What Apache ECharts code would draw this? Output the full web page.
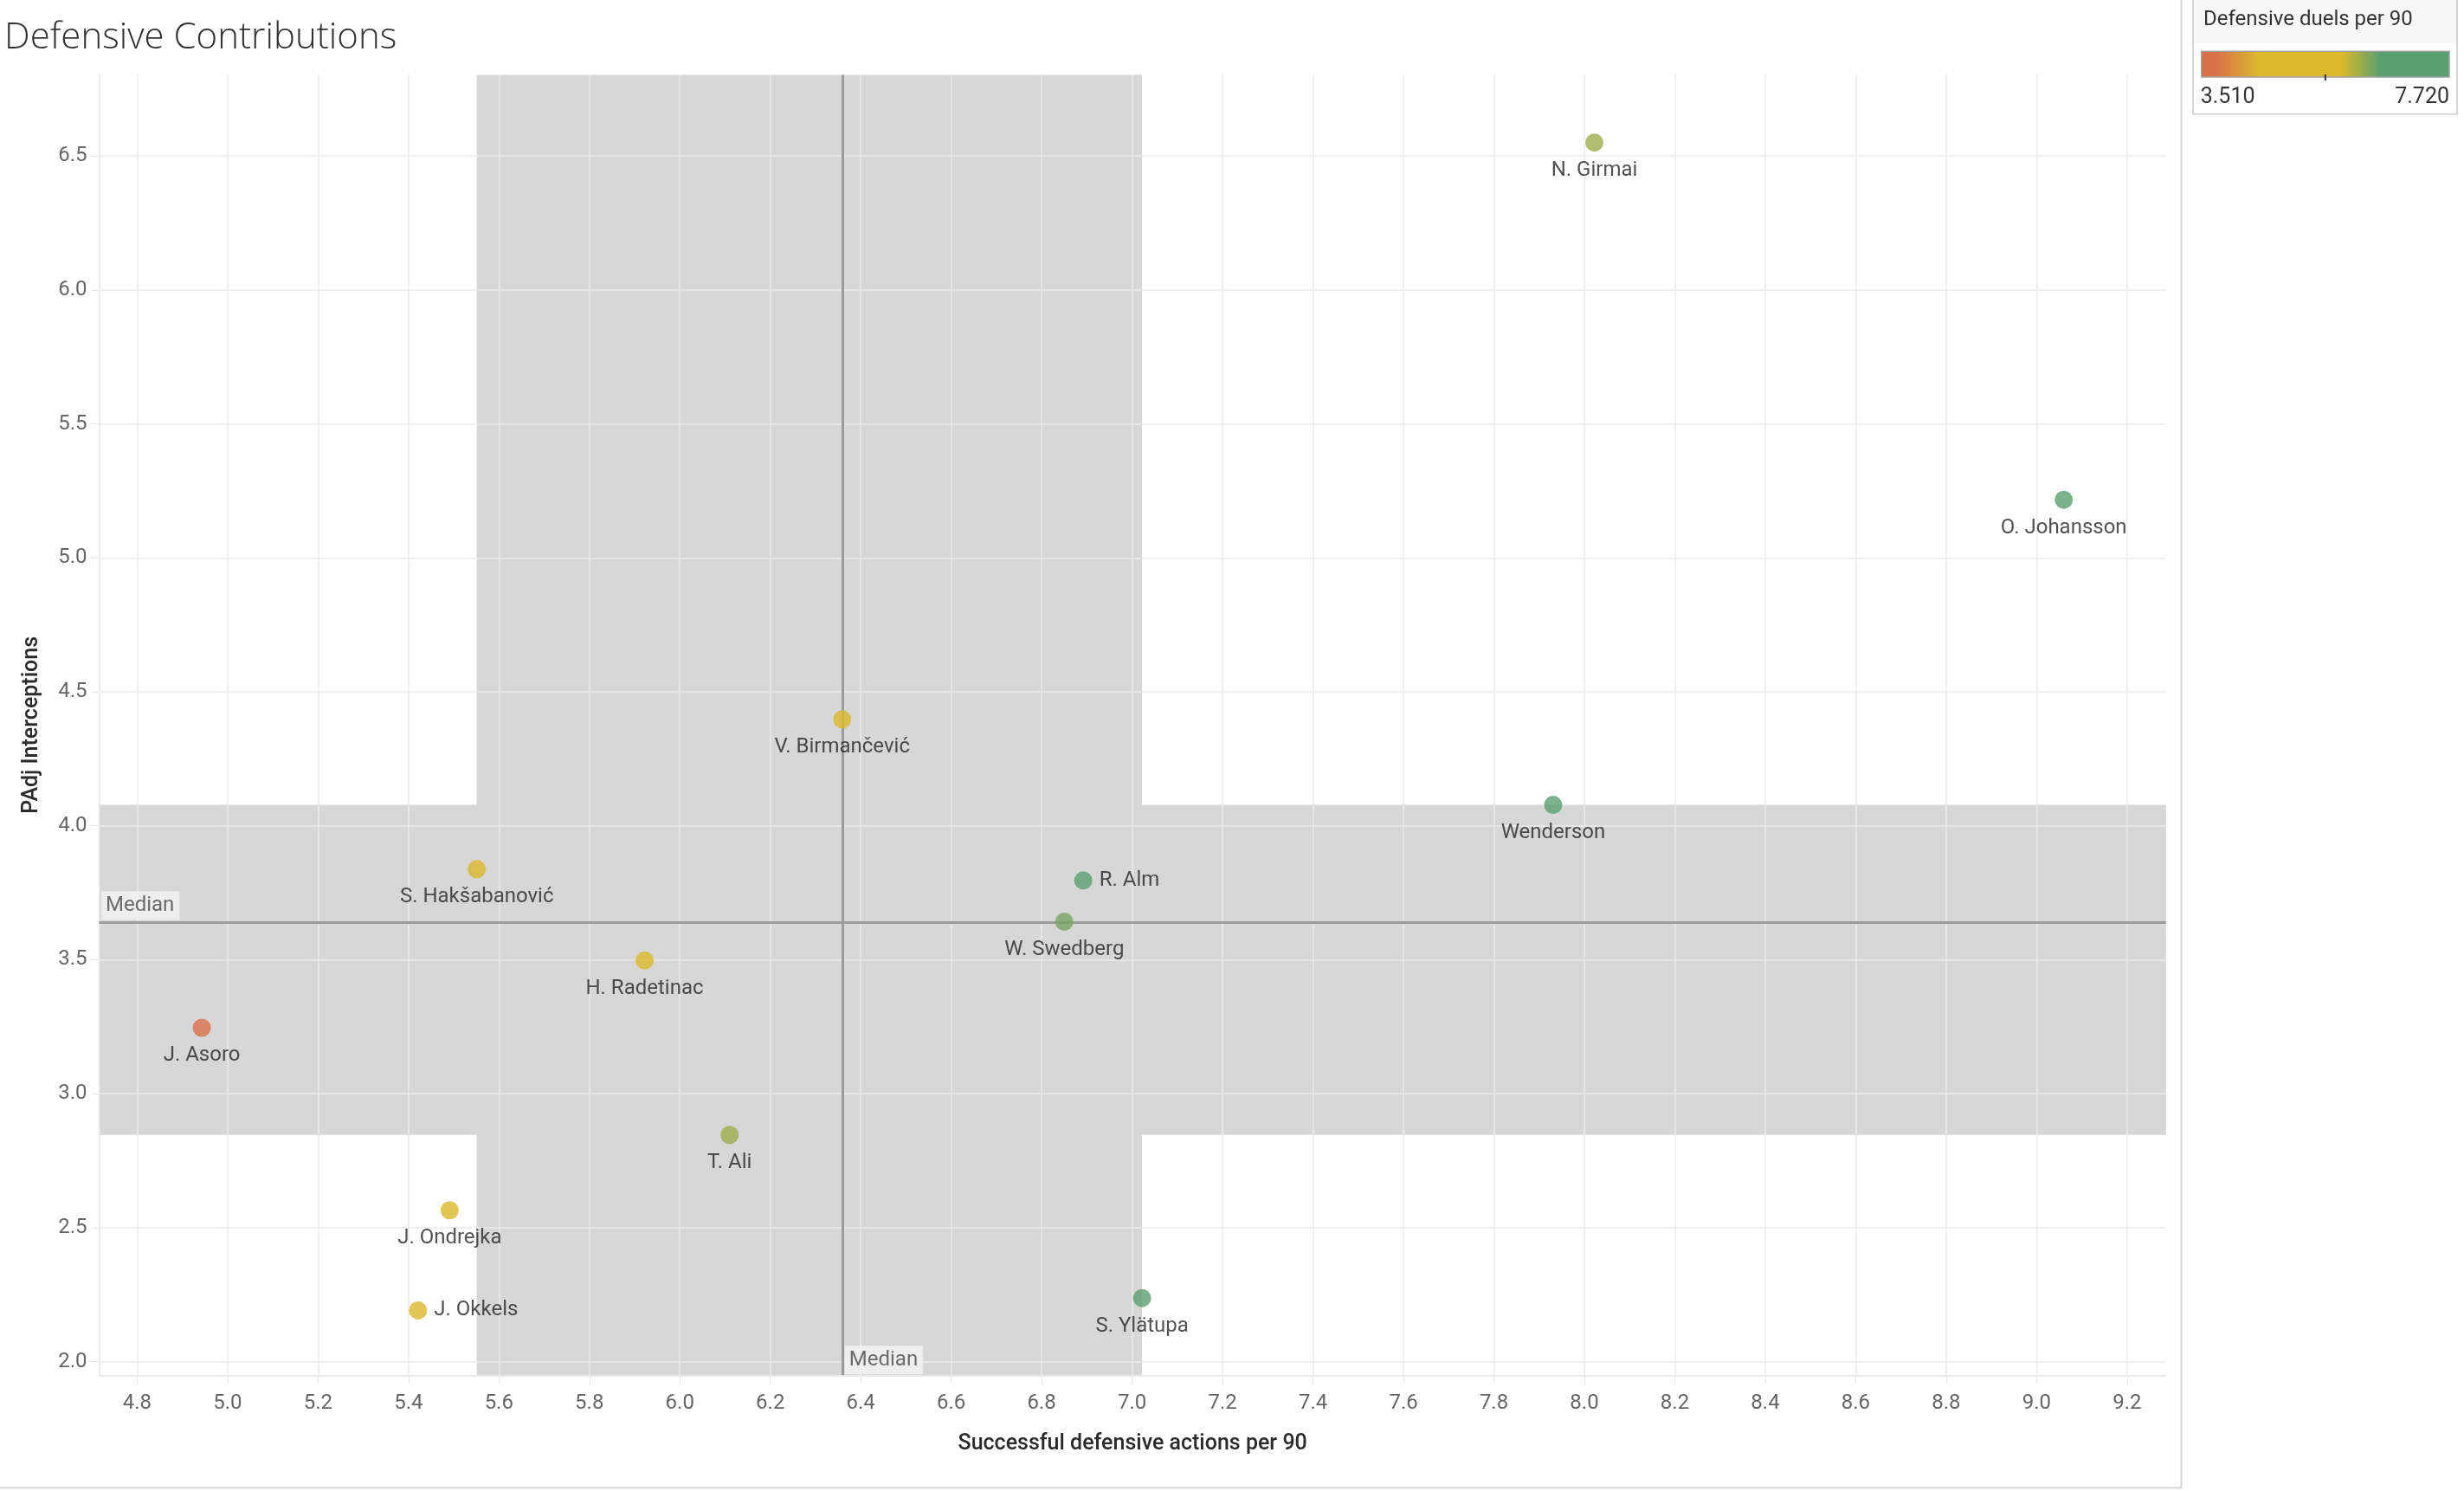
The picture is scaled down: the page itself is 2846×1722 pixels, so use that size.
<!DOCTYPE html>
<html>
<head>
<meta charset="utf-8">
<script src="https://cdn.jsdelivr.net/npm/echarts@6/dist/echarts.min.js"></script>
<style>
html,body{margin:0;padding:0;background:#fff;}
#chart{width:2846px;height:1722px;}
</style>
</head>
<body>
<div id="chart"></div>
<script>
// ---------------- DATA ----------------
const players = ['N. Girmai','O. Johansson','V. Birmančević','Wenderson','S. Hakšabanović','R. Alm','W. Swedberg','H. Radetinac','J. Asoro','T. Ali','J. Ondrejka','J. Okkels','S. Ylätupa'];
const defActions = [8.022, 9.060, 6.359, 7.931, 5.551, 6.892, 6.850, 5.922, 4.943, 6.110, 5.491, 5.421, 7.022];
const interceptions = [6.550, 5.217, 4.397, 4.078, 3.838, 3.796, 3.642, 3.497, 3.246, 2.846, 2.565, 2.191, 2.237];
const defDuels = [6.20, 7.30, 5.60, 7.72, 5.30, 7.05, 6.40, 5.05, 3.51, 6.20, 5.45, 5.20, 6.95];
const xTicks = [4.8, 5.0, 5.2, 5.4, 5.6, 5.8, 6.0, 6.2, 6.4, 6.6, 6.8, 7.0, 7.2, 7.4, 7.6, 7.8, 8.0, 8.2, 8.4, 8.6, 8.8, 9.0, 9.2];
const yTicks = [2.0, 2.5, 3.0, 3.5, 4.0, 4.5, 5.0, 5.5, 6.0, 6.5];
const legendMinValue = 3.51;
const legendMaxValue = 7.72;

// ---------------- STYLE / LAYOUT ----------------
const FONT = 'Roboto, "Noto Sans", sans-serif';
const TITLE_FONT = '"Open Sans", Roboto, sans-serif';
const xMin = 4.716, xMax = 9.286, yMin = 1.949, yMax = 6.803;
const rightLabeled = new Set(['R. Alm', 'J. Okkels']);
const colorStops = [[0, '#d9704a'], [0.058, '#d9704a'], [0.236, '#dbb92c'], [0.567, '#dbb92c'], [0.718, '#5aa06f'], [1, '#5aa06f']];

function hexToRgb(h) { return [1, 3, 5].map(i => parseInt(h.slice(i, i + 2), 16)); }
function colorAt(t) {
  for (let i = 1; i < colorStops.length; i++) {
    if (t <= colorStops[i][0]) {
      const [t0, c0] = colorStops[i - 1], [t1, c1] = colorStops[i];
      const f = t1 > t0 ? (t - t0) / (t1 - t0) : 1;
      const a = hexToRgb(c0), b = hexToRgb(c1);
      return 'rgb(' + a.map((v, k) => Math.round(v + (b[k] - v) * f)).join(',') + ')';
    }
  }
  return colorStops[colorStops.length - 1][1];
}
const mapColors = Array.from({length: 101}, (_, i) => colorAt(i / 100));

// statistics derived from the data
const sx = defActions.slice().sort((a, b) => a - b);
const sy = interceptions.slice().sort((a, b) => a - b);
const n = sx.length;
const qi = p => Math.round((n - 1) * p);
const q1x = sx[qi(0.25)], medX = sx[qi(0.5)], q3x = sx[qi(0.75)];
const q1y = sy[qi(0.25)], medY = sy[qi(0.5)], q3y = sy[qi(0.75)];

const data = players.map((name, i) => {
  const item = {name: name, value: [defActions[i], interceptions[i], defDuels[i]]};
  if (rightLabeled.has(name)) item.label = {position: 'right', distance: 8};
  return item;
});

const chart = echarts.init(document.getElementById('chart'));

// legend geometry
const LG = {x: 2542.7, y: 59.3, w: 286.3, h: 29.7};
const midFrac = 0.5;

const option = {
  animation: false,
  textStyle: {fontFamily: FONT},
  grid: {left: 114.5, right: 344.2, top: 86.4, bottom: 133.7, containLabel: false},
  xAxis: {
    type: 'value', min: xMin, max: xMax, z: 2,
    name: 'Successful defensive actions per 90', nameLocation: 'middle', nameGap: 67,
    nameTextStyle: {fontSize: 25, fontWeight: 500, color: '#2b2b2b', fontFamily: FONT},
    axisLine: {show: true, onZero: false, lineStyle: {color: '#e4e4e4', width: 1.5}},
    axisTick: {show: true, customValues: xTicks, length: 9, lineStyle: {color: '#e6e6e6', width: 1}},
    axisLabel: {customValues: xTicks, formatter: v => v.toFixed(1), fontSize: 24, color: '#666', margin: 21, fontFamily: FONT},
    splitLine: {show: true, lineStyle: {color: '#ebebeb', width: 1.5}}
  },
  yAxis: {
    type: 'value', min: yMin, max: yMax, z: 2,
    name: 'PAdj Interceptions', nameLocation: 'middle', nameGap: 65,
    nameTextStyle: {fontSize: 25, fontWeight: 500, color: '#2b2b2b', fontFamily: FONT},
    axisLine: {show: true, onZero: false, lineStyle: {color: '#e4e4e4', width: 1.5}},
    axisTick: {show: true, customValues: yTicks, length: 9, lineStyle: {color: '#e6e6e6', width: 1}},
    axisLabel: {customValues: yTicks, formatter: v => v.toFixed(1), fontSize: 24, color: '#666', margin: 14, fontFamily: FONT},
    splitLine: {show: true, lineStyle: {color: '#ebebeb', width: 1.5}}
  },
  visualMap: {
    type: 'continuous', show: false, dimension: 2, seriesIndex: 0,
    min: legendMinValue, max: legendMaxValue,
    inRange: {color: mapColors}
  },
  series: [{
    type: 'scatter', z: 6,
    symbolSize: 21,
    data: data,
    encode: {x: 0, y: 1},
    label: {show: true, position: 'bottom', distance: 10, formatter: '{b}', fontSize: 24, color: '#262626', fontFamily: FONT},
    emphasis: {disabled: true},
    markArea: {
      silent: true, z: 1,
      label: {show: false},
      itemStyle: {color: '#d7d7d7', borderWidth: 0},
      data: [
        [{xAxis: q1x}, {xAxis: q3x}],
        [{yAxis: q1y}, {yAxis: q3y}]
      ]
    },
    markLine: {
      silent: true, z: 3, symbol: ['none', 'none'], animation: false,
      label: {show: false},
      lineStyle: {color: '#9b9b9b', width: 3, type: 'solid'},
      emphasis: {disabled: true},
      data: [{xAxis: medX}, {yAxis: medY}]
    },
    markPoint: {
      silent: true, z: 4, symbol: 'rect', symbolSize: 0,
      label: {show: true, formatter: 'Median', fontSize: 24, color: '#6b6b6b', fontFamily: FONT,
        backgroundColor: 'rgba(241,241,241,0.9)', padding: [5, 6, 4, 5]},
      data: [
        {coord: [medX, yMin], label: {position: [3, -1], align: 'left', verticalAlign: 'bottom'}},
        {coord: [xMin, medY], label: {position: [2.5, -2], align: 'left', verticalAlign: 'bottom'}}
      ]
    }
  }],
  graphic: [
    // sheet border
    {type: 'rect', silent: true, z: 0, shape: {x: -3, y: -3, width: 2522.6, height: 1721.3},
      style: {fill: 'none', stroke: '#d5d5d5', lineWidth: 2}},
    // title
    {type: 'text', silent: true, style: {text: 'Defensive Contributions', x: 5, y: 44, fill: '#333',
      fontSize: 42, fontWeight: 300, fontFamily: TITLE_FONT, align: 'left', verticalAlign: 'middle'}},
    // legend box
    {type: 'rect', silent: true, shape: {x: 2533, y: -3, width: 305, height: 134.7},
      style: {fill: '#fff', stroke: '#d5d5d5', lineWidth: 2}},
    {type: 'rect', silent: true, shape: {x: 2534, y: 0, width: 303, height: 50},
      style: {fill: '#f7f7f7'}},
    {type: 'text', silent: true, style: {text: 'Defensive duels per 90', x: 2545, y: 23, fill: '#333',
      fontSize: 24, fontFamily: FONT, align: 'left', verticalAlign: 'middle'}},
    {type: 'rect', silent: true, shape: {x: LG.x, y: LG.y, width: LG.w, height: LG.h},
      style: {fill: new echarts.graphic.LinearGradient(0, 0, 1, 0, colorStops.map(([o, c]) => ({offset: o, color: c}))),
        stroke: '#a3a3a3', lineWidth: 1.5}},
    {type: 'line', silent: true, shape: {x1: LG.x + LG.w * midFrac, y1: LG.y + LG.h - 3, x2: LG.x + LG.w * midFrac, y2: LG.y + LG.h + 4},
      style: {stroke: '#333', lineWidth: 2}},
    {type: 'text', silent: true, style: {text: legendMinValue.toFixed(3), x: LG.x - 1, y: 113, fill: '#333',
      fontSize: 25, fontFamily: FONT, align: 'left', verticalAlign: 'middle'}},
    {type: 'text', silent: true, style: {text: legendMaxValue.toFixed(3), x: LG.x + LG.w, y: 113, fill: '#333',
      fontSize: 25, fontFamily: FONT, align: 'right', verticalAlign: 'middle'}}
  ]
};
chart.setOption(option);
</script>
</body>
</html>
